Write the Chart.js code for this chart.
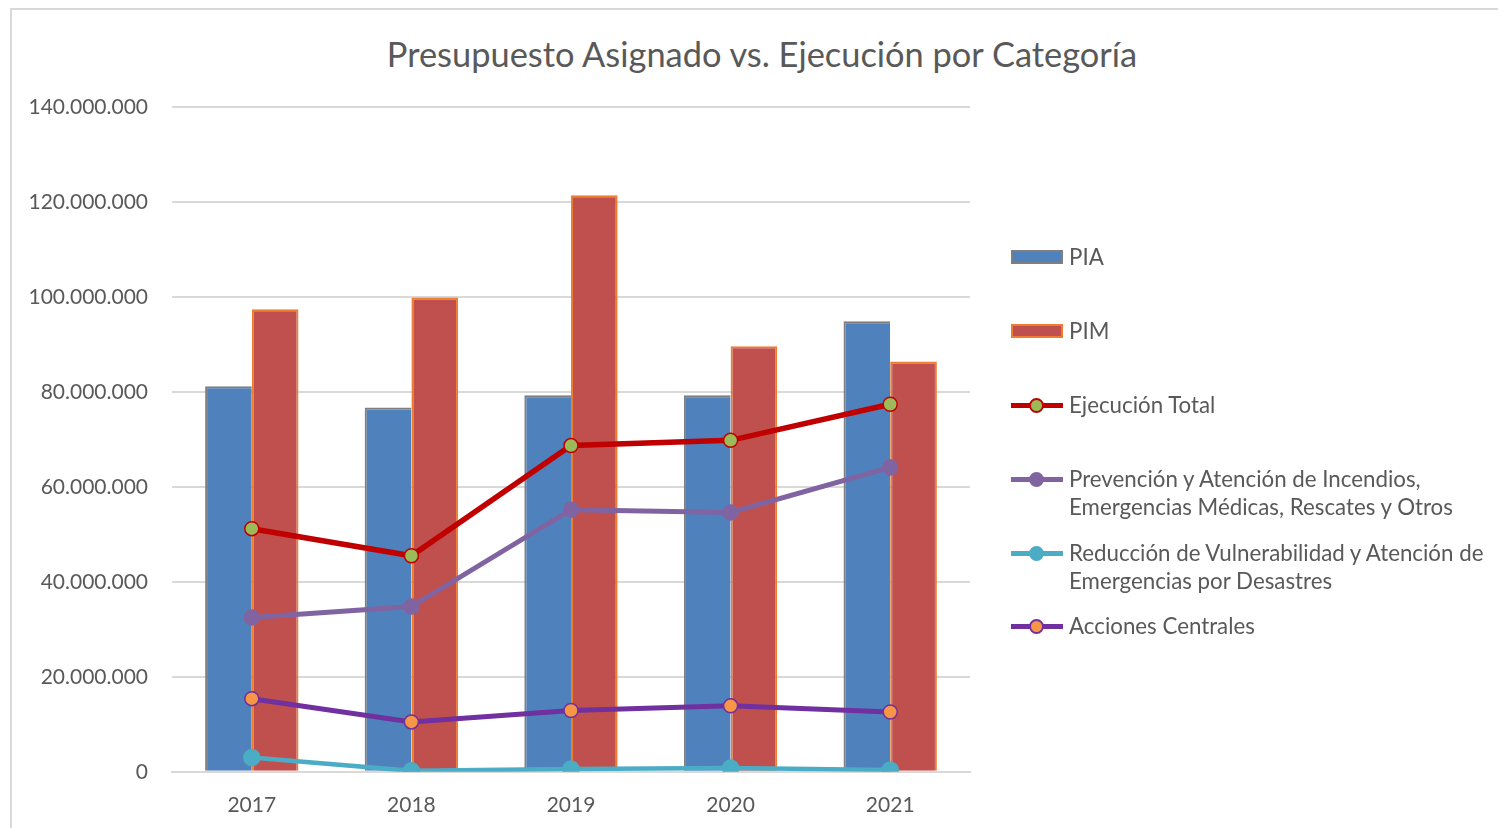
<!DOCTYPE html>
<html>
<head>
<meta charset="utf-8">
<script src="https://cdn.jsdelivr.net/npm/chart.js@4.4.0/dist/chart.umd.min.js"></script>
<style>
  html, body { margin: 0; padding: 0; background: #fff; }
  body { width: 1498px; height: 828px; overflow: hidden; position: relative; font-family: Lato, "Open Sans", sans-serif; }
  #frame { position: absolute; left: 10px; top: 8px; width: 1500px; height: 830px; border: 2px solid #D9D9D9; box-sizing: border-box; }
  #wrap { position: absolute; left: 0; top: 0; width: 1498px; height: 849px; }
  #title { position: absolute; left: 262px; width: 1000px; top: 32px; text-align: center; color: #595959; font-size: 34.4px; line-height: 44px; white-space: nowrap; }
  #legend { position: absolute; left: 1011px; top: 0; color: #595959; font-size: 22.3px; }
  .item { position: absolute; left: 0; white-space: nowrap; line-height: 28px; }
  .item .txt { position: absolute; left: 58px; top: 0; }
  .sw { position: absolute; left: 0; width: 52px; }
  .bar { height: 14px; box-sizing: border-box; border: 2px solid; top: 7px; }
  .ln { height: 5px; top: 12px; }
  .dot { position: absolute; left: 18px; top: -5px; width: 15px; height: 15px; border-radius: 50%; box-sizing: border-box; }
</style>
</head>
<body>
<div id="frame"></div>
<div id="title">Presupuesto Asignado vs. Ejecución por Categoría</div>
<div id="wrap"><canvas id="chart" width="1498" height="849"></canvas></div>
<div id="legend"></div>
<script>
const years = ["2017", "2018", "2019", "2020", "2021"];
const pia = [81200000, 76700000, 79300000, 79300000, 94900000];
const pim = [97400000, 99900000, 121400000, 89600000, 86400000];
const ejecucion = [51200000, 45500000, 68700000, 69800000, 77400000];
const prevencion = [32500000, 34800000, 55200000, 54600000, 64100000];
const reduccion = [3000000, 200000, 600000, 800000, 400000];
const acciones = [15400000, 10500000, 12900000, 13900000, 12600000];

const yTicks = [0, 20000000, 40000000, 60000000, 80000000, 100000000, 120000000, 140000000];

function fmt(v) {
  return String(v).replace(/\B(?=(\d{3})+(?!\d))/g, '.');
}

const lineStyle = (label, data, color, pointFill, pointBorder, width, radius) => ({
  type: 'line',
  label: label,
  data: data,
  borderColor: color,
  borderWidth: width,
  pointRadius: radius,
  pointBackgroundColor: pointFill,
  pointBorderColor: pointBorder,
  pointBorderWidth: 1.5,
  tension: 0,
  order: 0
});

const ctx = document.getElementById('chart').getContext('2d');
const chart = new Chart(ctx, {
  data: {
    labels: years,
    datasets: [
      lineStyle("Ejecución Total", ejecucion, "#C00000", "#9BBB59", "#C00000", 5.5, 7),
      lineStyle("Prevención y Atención de Incendios, Emergencias Médicas, Rescates y Otros", prevencion, "#8064A2", "#8064A2", "#8064A2", 5, 7.5),
      lineStyle("Reducción de Vulnerabilidad y Atención de Emergencias por Desastres", reduccion, "#4BACC6", "#4BACC6", "#4BACC6", 4.5, 8),
      lineStyle("Acciones Centrales", acciones, "#7030A0", "#F79646", "#7030A0", 5, 7),
      {
        type: 'bar', label: "PIA", data: pia,
        backgroundColor: "#4F81BD", borderColor: "#7F7F7F", borderWidth: { top: 2, left: 2, right: 0, bottom: 0 },
        categoryPercentage: 0.585, barPercentage: 1, order: 1
      },
      {
        type: 'bar', label: "PIM", data: pim,
        backgroundColor: "#C0504D", borderColor: "#ED7D31", borderWidth: 2,
        categoryPercentage: 0.585, barPercentage: 1, order: 1
      }
    ]
  },
  options: {
    responsive: false,
    animation: false,
    devicePixelRatio: 1,
    layout: { padding: { left: 0, right: 528, top: 107, bottom: 10 } },
    plugins: {
      legend: { display: false },
      tooltip: { enabled: false },
      title: { display: false }
    },
    scales: {
      x: {
        grid: { display: false, drawTicks: false },
        border: { display: true, color: "#D9D9D9", width: 2 },
        ticks: { color: "#595959", font: { family: "Lato", size: 21 }, padding: 21 }
      },
      y: {
        min: 0, max: 140000000,
        afterBuildTicks: s => { s.ticks = yTicks.map(v => ({ value: v })); },
        afterFit: s => { s.width = 172; },
        grid: { color: "#D9D9D9", lineWidth: 2, drawTicks: false },
        border: { display: false },
        ticks: { color: "#595959", font: { family: "Lato", size: 21 }, padding: 24, callback: v => fmt(v) }
      }
    }
  }
});

// legend
const legendItems = [
  { kind: 'bar', text: "PIA", fill: "#4F81BD", border: "#7F7F7F", y: 243 },
  { kind: 'bar', text: "PIM", fill: "#C0504D", border: "#ED7D31", y: 317 },
  { kind: 'line', text: "Ejecución Total", color: "#C00000", dot: "#9BBB59", dotBorder: "#C00000", y: 391 },
  { kind: 'line', text: "Prevención y Atención de Incendios,<br>Emergencias Médicas, Rescates y Otros", color: "#8064A2", dot: "#8064A2", dotBorder: "#8064A2", y: 465 },
  { kind: 'line', text: "Reducción de Vulnerabilidad y Atención de<br>Emergencias por Desastres", color: "#4BACC6", dot: "#4BACC6", dotBorder: "#4BACC6", y: 539 },
  { kind: 'line', text: "Acciones Centrales", color: "#7030A0", dot: "#F79646", dotBorder: "#7030A0", y: 612 }
];
const legend = document.getElementById('legend');
legendItems.forEach(it => {
  const d = document.createElement('div');
  d.className = 'item';
  d.style.top = it.y + 'px';
  if (it.kind === 'bar') {
    d.innerHTML = `<div class="sw bar" style="background:${it.fill};border-color:${it.border}"></div><div class="txt">${it.text}</div>`;
  } else {
    d.innerHTML = `<div class="sw ln" style="background:${it.color}"><div class="dot" style="background:${it.dot};border:2px solid ${it.dotBorder}"></div></div><div class="txt">${it.text}</div>`;
  }
  legend.appendChild(d);
});
</script>
</body>
</html>
